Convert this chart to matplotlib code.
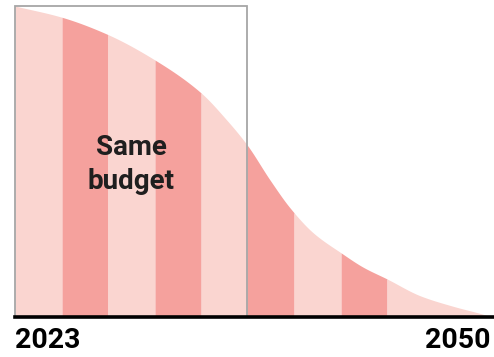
#!/usr/bin/env python3

"""
Emissions budget curve split into equal time slices
"""

import numpy as np
import matplotlib.pyplot as plt
from matplotlib.patches import Rectangle

# remaining emissions (share of 2023 level) read along the years
years = [2023.0, 2025.63, 2028.2, 2030.89, 2033.47, 2034.93, 2036.09,
         2037.37, 2038.5, 2039.8, 2041.38, 2042.62, 2043.97, 2045.83,
         2047.69, 2049.21, 2049.8]
emissions = [100.0, 96.4, 90.9, 82.6, 72.1, 63.3, 55.2,
             44.0, 35.0, 27.0, 20.5, 15.9, 12.1, 6.7,
             3.3, 1.0, 0.0]

# slice boundaries, alternating light / dark
slice_edges = [2023.0, 2025.65, 2028.24, 2030.89, 2033.49, 2036.08,
               2038.73, 2041.38, 2043.97, 2050.0]
budget_end = 2036.08

year_labels = ["2023", "2050"]

LIGHT = "#fad5d0"
DARK = "#f5a19d"


def pchip(x, y, xq):
    """Monotone cubic curve through (x, y), evaluated at xq"""
    h = np.diff(x)
    d = np.diff(y) / h
    m = np.zeros_like(y)
    for k in range(1, len(x) - 1):
        if d[k - 1] * d[k] > 0:
            w1 = 2 * h[k] + h[k - 1]
            w2 = h[k] + 2 * h[k - 1]
            m[k] = (w1 + w2) / (w1 / d[k - 1] + w2 / d[k])
    m[0], m[-1] = d[0], d[-1]
    idx = np.clip(np.searchsorted(x, xq) - 1, 0, len(h) - 1)
    t = np.clip((xq - x[idx]) / h[idx], 0, 1)
    h00 = 2 * t**3 - 3 * t**2 + 1
    h10 = t**3 - 2 * t**2 + t
    h01 = -2 * t**3 + 3 * t**2
    h11 = t**3 - t**2
    return (h00 * y[idx] + h10 * h[idx] * m[idx]
            + h01 * y[idx + 1] + h11 * h[idx] * m[idx + 1])


plt.rcParams["font.family"] = ["Roboto", "DejaVu Sans"]

fig = plt.figure(figsize=(4.94, 3.57), dpi=100)
ax = fig.add_axes([15 / 494, 1 - 316.5 / 357, 1 - 15 / 494, 311.5 / 357])

xs = np.array(years)
ys = np.array(emissions)

for i, (a, b) in enumerate(zip(slice_edges[:-1], slice_edges[1:])):
    px = np.linspace(a, b, 120)
    py = np.clip(pchip(xs, ys, px), 0, None)
    ax.fill_between(px, 0, py, color=DARK if i % 2 else LIGHT, lw=0)

top = 100 * 311.5 / 310.5
ax.set_xlim(2023, 2050)
ax.set_ylim(0, top)

ax.add_patch(Rectangle((2023, 0), budget_end - 2023, top - 0.3,
                       fill=False, ec="#a6a6a6", lw=1.3, clip_on=False))

ax.text((2023 + budget_end) / 2, 49.0, "Same\nbudget", ha="center", va="center",
        fontsize=20, fontweight="bold", color="#1f1f1f", linespacing=1.35)

ax.axhline(0, color="black", lw=2.6, clip_on=False)
ax.axis("off")

fig.text(15 / 494, 1 - 340.5 / 357, year_labels[0], ha="left", va="center",
         fontsize=20.5, fontweight="bold", color="black")
fig.text(490 / 494, 1 - 340.5 / 357, year_labels[1], ha="right", va="center",
         fontsize=20.5, fontweight="bold", color="black")

fig.savefig("out.png", dpi=100)
